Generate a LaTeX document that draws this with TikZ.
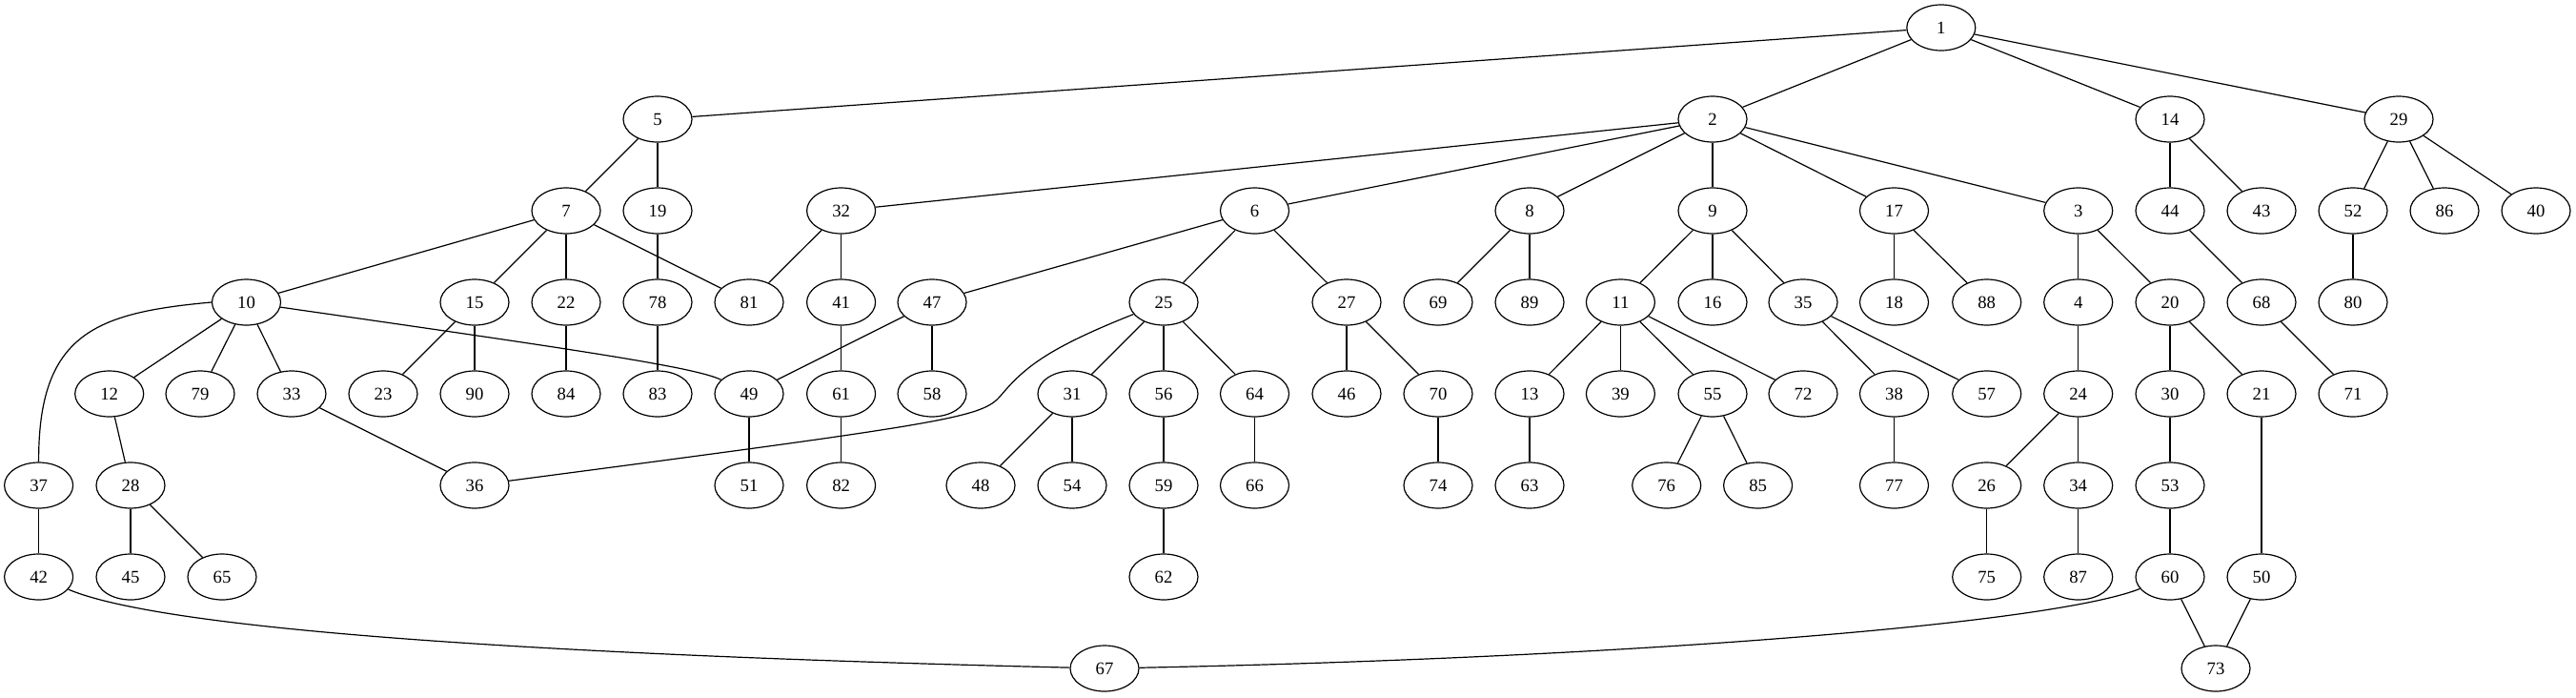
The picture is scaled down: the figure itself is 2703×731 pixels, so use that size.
\documentclass[tikz,border=0pt]{standalone}
\usepackage{fontspec}
\setmainfont{Liberation Serif}
\usetikzlibrary{shapes.geometric}
\begin{document}
\begin{tikzpicture}[x=1pt,y=-1pt,
  nd/.style={draw,ellipse,line width=1.2pt,minimum width=72pt,minimum height=48pt,inner sep=0pt,font=\fontsize{18.7}{22}\selectfont},
  ed/.style={line width=1.2pt}]
\useasboundingbox (0,0) rectangle (2703,731);
% row 0
\node[nd] (n1) at (2036.8,29) {1};
% row 1
\foreach \n/\x in {5/690,2/1797,14/2277,29/2517}
  \node[nd] (n\n) at (\x,125) {\n};
% row 2
\foreach \n/\x in {7/594,19/690,32/882.6,6/1316.5,8/1605,9/1797,17/1987.5,3/2180.7,44/2277,43/2373,52/2469,86/2565,40/2661}
  \node[nd] (n\n) at (\x,221) {\n};
% row 3
\foreach \n/\x in {10/258.5,15/498,22/594,78/690,81/786,41/882.6,47/978,25/1221,27/1413,69/1509,89/1605,11/1700.4,16/1797,35/1892,18/1987.5,88/2084.7,4/2180.7,20/2277,68/2373,80/2469}
  \node[nd] (n\n) at (\x,317) {\n};
% row 4
\foreach \n/\x in {12/114.7,79/210,33/306,23/402,90/498,84/594,83/690,49/786,61/882.6,58/978,31/1125,56/1221,64/1316.5,46/1413,70/1509,13/1605,39/1700.4,55/1797,72/1892,38/1987.5,57/2084.7,24/2180.7,30/2277,21/2373,71/2469}
  \node[nd] (n\n) at (\x,413) {\n};
% row 5
\foreach \n/\x in {37/40.6,28/137,36/498,51/786,82/882.6,48/1029,54/1125,59/1221,66/1316.5,74/1509,63/1605,76/1748.7,85/1844.6,77/1987.5,26/2084.7,34/2180.7,53/2277}
  \node[nd] (n\n) at (\x,509) {\n};
% row 6
\foreach \n/\x in {42/40.6,45/137,65/233,62/1221,75/2084.7,87/2180.7,60/2277,50/2373}
  \node[nd] (n\n) at (\x,605) {\n};
% row 7
\foreach \n/\x in {67/1159,73/2325}
  \node[nd] (n\n) at (\x,701) {\n};
% straight edges
\foreach \a/\b in {1/5,1/2,1/14,1/29,5/7,5/19,7/10,7/15,7/22,7/81,19/78,78/83,
  10/12,10/79,10/33,12/28,28/45,28/65,37/42,33/36,15/23,15/90,22/84,
  32/81,32/41,41/61,61/82,47/49,47/58,49/51,
  2/32,2/6,2/8,2/9,2/17,2/3,6/47,6/25,6/27,25/31,25/56,25/64,31/48,31/54,
  56/59,59/62,64/66,27/46,27/70,70/74,8/69,8/89,9/11,9/16,9/35,
  11/13,11/39,11/55,11/72,13/63,55/76,55/85,35/38,35/57,38/77,17/18,17/88,
  3/4,3/20,4/24,24/26,24/34,26/75,34/87,20/30,20/21,30/53,53/60,60/73,
  21/50,50/73,14/44,14/43,44/68,68/71,29/52,29/86,29/40,52/80}
  \draw[ed] (n\a) -- (n\b);
% curved edges
\draw[ed] (n10.west) .. controls (100,328) and (40,350) .. (n37.north);
\draw[ed] (n10) .. controls (600,366) and (730,385) .. (n49);
\draw[ed] (n25) .. controls (1100,365) and (1075,385) .. (1050,415) .. controls (1030,438) and (1000,443) .. (n36);
\draw[ed] (n42) .. controls (190,668) and (700,690) .. (n67);
\draw[ed] (n60) .. controls (2150,655) and (1700,690) .. (n67);
\end{tikzpicture}
\end{document}
